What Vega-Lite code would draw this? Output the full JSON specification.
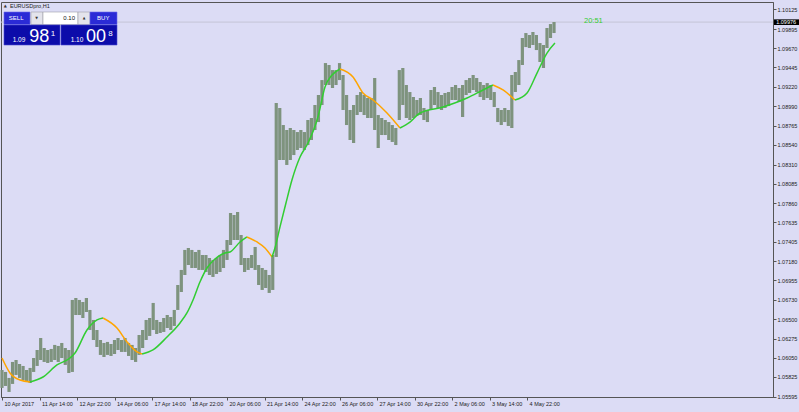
{
  "$schema": "https://vega.github.io/schema/vega-lite/v6.json",
  "width": 772,
  "height": 395,
  "autosize": {"type": "none"},
  "padding": {"left": 1, "top": 2, "right": 26, "bottom": 15},
  "background": "#DCDCF5",
  "config": {"font": "Liberation Sans", "view": {"stroke": "#555555", "strokeWidth": 1}},
  "datasets": {
    "bars": [
      {"t":0,"h":1.05907,"l":1.05697},{"t":3,"h":1.05884,"l":1.05720},{"t":6,"h":1.05814,"l":1.05650},{"t":9,"h":1.06001,"l":1.05744},
      {"t":12,"h":1.06024,"l":1.05849},{"t":15,"h":1.05977,"l":1.05814},{"t":18,"h":1.05954,"l":1.05790},{"t":21,"h":1.05907,"l":1.05767},
      {"t":24,"h":1.05931,"l":1.05755},{"t":27,"h":1.06047,"l":1.05884},{"t":30,"h":1.06141,"l":1.05954},{"t":33,"h":1.06281,"l":1.06024},
      {"t":36,"h":1.06164,"l":1.06001},{"t":39,"h":1.06141,"l":1.05989},{"t":42,"h":1.06153,"l":1.06001},{"t":45,"h":1.06200,"l":1.06024},
      {"t":48,"h":1.06188,"l":1.06001},{"t":51,"h":1.06223,"l":1.06047},{"t":54,"h":1.06164,"l":1.05966},{"t":57,"h":1.06141,"l":1.05872},
      {"t":60,"h":1.06726,"l":1.05884},{"t":63,"h":1.06749,"l":1.06550},{"t":66,"h":1.06726,"l":1.06550},{"t":69,"h":1.06702,"l":1.06515},
      {"t":72,"h":1.06749,"l":1.06585},{"t":75,"h":1.06609,"l":1.06375},{"t":78,"h":1.06492,"l":1.06258},{"t":81,"h":1.06375,"l":1.06176},
      {"t":84,"h":1.06258,"l":1.06083},{"t":87,"h":1.06223,"l":1.06059},{"t":90,"h":1.06235,"l":1.06083},{"t":93,"h":1.06211,"l":1.06071},
      {"t":96,"h":1.06258,"l":1.06094},{"t":99,"h":1.06281,"l":1.06141},{"t":102,"h":1.06258,"l":1.06118},{"t":105,"h":1.06281,"l":1.06118},
      {"t":108,"h":1.06223,"l":1.06071},{"t":111,"h":1.06200,"l":1.06024},{"t":114,"h":1.06164,"l":1.06001},{"t":117,"h":1.06316,"l":1.06083},
      {"t":120,"h":1.06375,"l":1.06164},{"t":123,"h":1.06492,"l":1.06258},{"t":126,"h":1.06515,"l":1.06305},{"t":129,"h":1.06691,"l":1.06375},
      {"t":132,"h":1.06492,"l":1.06328},{"t":135,"h":1.06468,"l":1.06340},{"t":138,"h":1.06515,"l":1.06352},{"t":141,"h":1.06550,"l":1.06398},
      {"t":144,"h":1.06527,"l":1.06375},{"t":147,"h":1.06609,"l":1.06422},{"t":150,"h":1.06901,"l":1.06609},{"t":153,"h":1.07077,"l":1.06819},
      {"t":156,"h":1.07311,"l":1.07018},{"t":159,"h":1.07334,"l":1.07135},{"t":162,"h":1.07311,"l":1.07100},{"t":165,"h":1.07287,"l":1.07100},
      {"t":168,"h":1.07311,"l":1.07077},{"t":171,"h":1.07252,"l":1.07077},{"t":174,"h":1.07252,"l":1.07053},{"t":177,"h":1.07217,"l":1.07018},
      {"t":180,"h":1.07194,"l":1.06995},{"t":183,"h":1.07217,"l":1.07030},{"t":186,"h":1.07252,"l":1.07053},{"t":189,"h":1.07311,"l":1.07100},
      {"t":192,"h":1.07427,"l":1.07194},{"t":195,"h":1.07743,"l":1.07369},{"t":198,"h":1.07720,"l":1.07427},{"t":201,"h":1.07755,"l":1.07427},
      {"t":204,"h":1.07486,"l":1.07135},{"t":207,"h":1.07217,"l":1.07053},{"t":210,"h":1.07217,"l":1.07077},{"t":213,"h":1.07252,"l":1.07100},
      {"t":216,"h":1.07346,"l":1.07077},{"t":219,"h":1.07135,"l":1.06901},{"t":222,"h":1.07100,"l":1.06843},{"t":225,"h":1.07077,"l":1.06866},
      {"t":228,"h":1.07018,"l":1.06808},{"t":231,"h":1.07252,"l":1.06843},{"t":234,"h":1.09030,"l":1.07229},{"t":237,"h":1.08971,"l":1.08363},
      {"t":240,"h":1.08772,"l":1.08363},{"t":243,"h":1.08714,"l":1.08305},{"t":246,"h":1.08737,"l":1.08363},{"t":249,"h":1.08714,"l":1.08421},
      {"t":252,"h":1.08690,"l":1.08480},{"t":255,"h":1.08714,"l":1.08503},{"t":258,"h":1.08690,"l":1.08480},{"t":261,"h":1.08831,"l":1.08538},
      {"t":264,"h":1.08854,"l":1.08597},{"t":267,"h":1.09006,"l":1.08714},{"t":270,"h":1.09123,"l":1.08807},{"t":273,"h":1.09298,"l":1.09006},
      {"t":276,"h":1.09497,"l":1.09240},{"t":279,"h":1.09474,"l":1.09240},{"t":282,"h":1.09415,"l":1.09205},{"t":285,"h":1.09415,"l":1.09240},
      {"t":288,"h":1.09497,"l":1.09298},{"t":291,"h":1.09357,"l":1.08948},{"t":294,"h":1.09123,"l":1.08772},{"t":297,"h":1.08948,"l":1.08597},
      {"t":300,"h":1.09006,"l":1.08562},{"t":303,"h":1.09123,"l":1.08889},{"t":306,"h":1.09158,"l":1.08924},{"t":309,"h":1.09123,"l":1.08889},
      {"t":312,"h":1.09088,"l":1.08854},{"t":315,"h":1.09088,"l":1.08854},{"t":318,"h":1.09322,"l":1.08714},{"t":321,"h":1.08889,"l":1.08503},
      {"t":324,"h":1.08854,"l":1.08655},{"t":327,"h":1.08831,"l":1.08655},{"t":330,"h":1.08807,"l":1.08597},{"t":333,"h":1.08772,"l":1.08574},
      {"t":336,"h":1.08737,"l":1.08538},{"t":339,"h":1.09415,"l":1.08831},{"t":342,"h":1.09439,"l":1.09006},{"t":345,"h":1.09240,"l":1.08854},
      {"t":348,"h":1.09158,"l":1.08831},{"t":351,"h":1.09100,"l":1.08854},{"t":354,"h":1.09065,"l":1.08878},{"t":357,"h":1.09088,"l":1.08889},
      {"t":360,"h":1.08971,"l":1.08831},{"t":363,"h":1.08948,"l":1.08807},{"t":366,"h":1.09182,"l":1.08948},{"t":369,"h":1.09217,"l":1.09006},
      {"t":372,"h":1.09158,"l":1.08971},{"t":375,"h":1.09123,"l":1.08948},{"t":378,"h":1.09147,"l":1.08971},{"t":381,"h":1.09158,"l":1.08994},
      {"t":384,"h":1.09217,"l":1.09065},{"t":387,"h":1.09240,"l":1.09065},{"t":390,"h":1.09205,"l":1.09041},{"t":393,"h":1.09240,"l":1.08866},
      {"t":396,"h":1.09298,"l":1.09123},{"t":399,"h":1.09322,"l":1.09147},{"t":402,"h":1.09357,"l":1.09182},{"t":405,"h":1.09322,"l":1.09158},
      {"t":408,"h":1.09275,"l":1.09100},{"t":411,"h":1.09240,"l":1.09065},{"t":414,"h":1.09263,"l":1.09088},{"t":417,"h":1.09240,"l":1.09065},
      {"t":420,"h":1.09158,"l":1.08983},{"t":423,"h":1.08971,"l":1.08807},{"t":426,"h":1.08948,"l":1.08772},{"t":429,"h":1.08971,"l":1.08807},
      {"t":432,"h":1.08948,"l":1.08761},{"t":435,"h":1.09357,"l":1.08737},{"t":438,"h":1.09392,"l":1.09158},{"t":441,"h":1.09532,"l":1.09240},
      {"t":444,"h":1.09790,"l":1.09474},{"t":447,"h":1.09848,"l":1.09684},{"t":450,"h":1.09825,"l":1.09673},{"t":453,"h":1.09860,"l":1.09708},
      {"t":456,"h":1.09825,"l":1.09649},{"t":459,"h":1.09731,"l":1.09509},{"t":462,"h":1.09708,"l":1.09439},{"t":465,"h":1.09907,"l":1.09673},
      {"t":468,"h":1.09953,"l":1.09790},{"t":471,"h":1.09977,"l":1.09848}
    ],
    "ma": [
      {"t":0,"p":1.06047,"seg":1,"dir":"down"},{"t":6.8,"p":1.05872,"seg":1,"dir":"down"},{"t":15.4,"p":1.05790,"seg":1,"dir":"down"},{"t":23.9,"p":1.05767,"seg":1,"dir":"down"},
      {"t":23.9,"p":1.05767,"seg":2,"dir":"up"},{"t":35.0,"p":1.05825,"seg":2,"dir":"up"},{"t":46.9,"p":1.05966,"seg":2,"dir":"up"},{"t":58.0,"p":1.06047,"seg":2,"dir":"up"},{"t":62.3,"p":1.06106,"seg":2,"dir":"up"},{"t":72.5,"p":1.06375,"seg":2,"dir":"up"},{"t":81.1,"p":1.06492,"seg":2,"dir":"up"},{"t":86.2,"p":1.06515,"seg":2,"dir":"up"},
      {"t":86.2,"p":1.06515,"seg":3,"dir":"down"},{"t":98.1,"p":1.06398,"seg":3,"dir":"down"},{"t":106.7,"p":1.06235,"seg":3,"dir":"down"},{"t":115.2,"p":1.06118,"seg":3,"dir":"down"},{"t":119.5,"p":1.06094,"seg":3,"dir":"down"},
      {"t":119.5,"p":1.06094,"seg":4,"dir":"up"},{"t":128.8,"p":1.06141,"seg":4,"dir":"up"},{"t":140.8,"p":1.06293,"seg":4,"dir":"up"},{"t":151.9,"p":1.06457,"seg":4,"dir":"up"},{"t":157.8,"p":1.06574,"seg":4,"dir":"up"},{"t":163.0,"p":1.06726,"seg":4,"dir":"up"},{"t":168.9,"p":1.06936,"seg":4,"dir":"up"},{"t":174.9,"p":1.07100,"seg":4,"dir":"up"},{"t":181.7,"p":1.07205,"seg":4,"dir":"up"},{"t":190.3,"p":1.07275,"seg":4,"dir":"up"},{"t":194.5,"p":1.07287,"seg":4,"dir":"up"},{"t":203.1,"p":1.07404,"seg":4,"dir":"up"},{"t":209.0,"p":1.07463,"seg":4,"dir":"up"},
      {"t":209.0,"p":1.07463,"seg":5,"dir":"down"},{"t":217.6,"p":1.07404,"seg":5,"dir":"down"},{"t":224.4,"p":1.07334,"seg":5,"dir":"down"},{"t":230.4,"p":1.07229,"seg":5,"dir":"down"},
      {"t":230.4,"p":1.07229,"seg":6,"dir":"up"},{"t":232.9,"p":1.07334,"seg":6,"dir":"up"},{"t":237.2,"p":1.07580,"seg":6,"dir":"up"},{"t":242.3,"p":1.07860,"seg":6,"dir":"up"},{"t":247.4,"p":1.08129,"seg":6,"dir":"up"},{"t":254.3,"p":1.08398,"seg":6,"dir":"up"},{"t":261.1,"p":1.08562,"seg":6,"dir":"up"},{"t":269.6,"p":1.08866,"seg":6,"dir":"up"},{"t":275.6,"p":1.09217,"seg":6,"dir":"up"},{"t":281.6,"p":1.09357,"seg":6,"dir":"up"},{"t":288.4,"p":1.09427,"seg":6,"dir":"up"},
      {"t":288.4,"p":1.09427,"seg":7,"dir":"down"},{"t":299.5,"p":1.09334,"seg":7,"dir":"down"},{"t":308.0,"p":1.09147,"seg":7,"dir":"down"},{"t":316.6,"p":1.09065,"seg":7,"dir":"down"},{"t":328.5,"p":1.08913,"seg":7,"dir":"down"},{"t":339.6,"p":1.08737,"seg":7,"dir":"down"},
      {"t":339.6,"p":1.08737,"seg":8,"dir":"up"},{"t":348.1,"p":1.08807,"seg":8,"dir":"up"},{"t":356.7,"p":1.08913,"seg":8,"dir":"up"},{"t":376.3,"p":1.08983,"seg":8,"dir":"up"},{"t":396.8,"p":1.09088,"seg":8,"dir":"up"},{"t":410.4,"p":1.09182,"seg":8,"dir":"up"},{"t":418.9,"p":1.09240,"seg":8,"dir":"up"},
      {"t":418.9,"p":1.09240,"seg":9,"dir":"down"},{"t":427.5,"p":1.09182,"seg":9,"dir":"down"},{"t":437.7,"p":1.09065,"seg":9,"dir":"down"},
      {"t":437.7,"p":1.09065,"seg":10,"dir":"up"},{"t":448.0,"p":1.09147,"seg":10,"dir":"up"},{"t":456.5,"p":1.09380,"seg":10,"dir":"up"},{"t":465.0,"p":1.09614,"seg":10,"dir":"up"},{"t":471.8,"p":1.09731,"seg":10,"dir":"up"}
    ]
  },
  "data": {"values": [{}]},
  "layer": [
    {
      "mark": {"type": "rule", "color": "#C4C4D6", "strokeWidth": 1},
      "encoding": {
        "y": {"datum": 1.09976, "type": "quantitative", "title": null}
      }
    },
    {
      "data": {"name": "bars"},
      "mark": {"type": "rule", "color": "#7E937E", "strokeWidth": 3.2},
      "encoding": {
        "x": {
          "field": "t", "type": "quantitative", "title": null,
          "scale": {"domain": [-0.85, 657.85], "nice": false, "zero": false},
          "axis": {
            "values": [0,32,64,96,128,160,192,224,256,288,320,352,384,416,448],
            "tickCount": 40,
            "labelExpr": "['10 Apr 2017','11 Apr 14:00','12 Apr 22:00','14 Apr 06:00','17 Apr 14:00','18 Apr 22:00','20 Apr 06:00','21 Apr 14:00','24 Apr 22:00','26 Apr 06:00','27 Apr 14:00','30 Apr 22:00','2 May 06:00','3 May 14:00','4 May 22:00'][round(datum.value/32)]",
            "labelAlign": "left", "labelBaseline": "top", "labelOffset": 2, "labelPadding": 1,
            "tickSize": 3, "labelFontSize": 5.5, "labelColor": "#222222", "tickColor": "#555555",
            "domainColor": "#555555", "grid": false, "labelFlush": false, "labelOverlap": false, "labelBound": false
          }
        },
        "y": {
          "field": "h", "type": "quantitative", "title": null,
          "scale": {"domain": [1.05591, 1.10211], "nice": false, "zero": false},
          "axis": {
            "orient": "right",
            "values": [1.05595,1.05825,1.0605,1.06275,1.065,1.0673,1.06955,1.0718,1.07405,1.07635,1.0786,1.08085,1.0831,1.0854,1.08765,1.0899,1.0922,1.09445,1.0967,1.09895,1.10125],
            "tickCount": 40,
            "format": ".5f", "labelFontSize": 5.5, "labelColor": "#222222", "tickSize": 3, "labelPadding": 1,
            "tickColor": "#555555", "domainColor": "#555555", "grid": false, "labelOverlap": false, "labelBound": false, "labelFlush": false
          }
        },
        "y2": {"field": "l"}
      }
    },
    {
      "data": {"name": "ma"},
      "mark": {"type": "line", "strokeWidth": 1.5, "interpolate": "monotone"},
      "encoding": {
        "x": {"field": "t", "type": "quantitative", "title": null},
        "y": {"field": "p", "type": "quantitative", "title": null},
        "detail": {"field": "seg", "type": "nominal"},
        "color": {"field": "dir", "type": "nominal", "scale": {"domain": ["up", "down"], "range": ["#32CD32", "#FFA500"]}, "legend": null}
      }
    },
    {
      "mark": {"type": "text", "text": "20:51", "color": "#32CD32", "fontSize": 7.5, "align": "left", "baseline": "middle"},
      "encoding": {"x": {"datum": 496.6, "type": "quantitative", "title": null}, "y": {"datum": 1.09986, "type": "quantitative", "title": null}}
    },
    {
      "mark": {"type": "rect", "color": "#000000"},
      "encoding": {
        "x": {"datum": 658.7, "type": "quantitative", "title": null}, "x2": {"datum": 681},
        "y": {"datum": 1.10008, "type": "quantitative", "title": null}, "y2": {"datum": 1.09942}
      }
    },
    {
      "mark": {"type": "text", "text": "1.09976", "color": "#FFFFFF", "fontSize": 5.5, "align": "left", "baseline": "middle"},
      "encoding": {"x": {"datum": 660.6, "type": "quantitative", "title": null}, "y": {"datum": 1.09976, "type": "quantitative", "title": null}}
    },
    {
      "mark": {"type": "text", "text": "▲", "color": "#333333", "fontSize": 4, "font": "DejaVu Sans", "align": "left", "baseline": "middle"},
      "encoding": {"x": {"datum": 1.5, "type": "quantitative", "title": null}, "y": {"datum": 1.10164, "type": "quantitative", "title": null}}
    },
    {
      "mark": {"type": "text", "text": "EURUSDpro,H1", "color": "#222222", "fontSize": 5.5, "align": "left", "baseline": "middle"},
      "encoding": {"x": {"datum": 6.8, "type": "quantitative", "title": null}, "y": {"datum": 1.10164, "type": "quantitative", "title": null}}
    },
    {
      "mark": {"type": "rect", "fill": "#2B2BD6", "stroke": "#6A6AEA", "strokeWidth": 0.6},
      "encoding": {"x": {"datum": 1.71, "type": "quantitative", "title": null}, "x2": {"datum": 23.89}, "y": {"datum": 1.10094, "type": "quantitative", "title": null}, "y2": {"datum": 1.09948}}
    },
    {
      "mark": {"type": "rect", "fill": "#E4E4EC", "stroke": "#A0A0A8", "strokeWidth": 0.6},
      "encoding": {"x": {"datum": 24.74, "type": "quantitative", "title": null}, "x2": {"datum": 34.98}, "y": {"datum": 1.10094, "type": "quantitative", "title": null}, "y2": {"datum": 1.09948}}
    },
    {
      "mark": {"type": "rect", "fill": "#FFFFFF", "stroke": "#A0A0A8", "strokeWidth": 0.6},
      "encoding": {"x": {"datum": 34.98, "type": "quantitative", "title": null}, "x2": {"datum": 64.85}, "y": {"datum": 1.10094, "type": "quantitative", "title": null}, "y2": {"datum": 1.09948}}
    },
    {
      "mark": {"type": "rect", "fill": "#E4E4EC", "stroke": "#A0A0A8", "strokeWidth": 0.6},
      "encoding": {"x": {"datum": 64.85, "type": "quantitative", "title": null}, "x2": {"datum": 75.09}, "y": {"datum": 1.10094, "type": "quantitative", "title": null}, "y2": {"datum": 1.09948}}
    },
    {
      "mark": {"type": "rect", "fill": "#2B2BD6", "stroke": "#6A6AEA", "strokeWidth": 0.6},
      "encoding": {"x": {"datum": 75.09, "type": "quantitative", "title": null}, "x2": {"datum": 98.12}, "y": {"datum": 1.10094, "type": "quantitative", "title": null}, "y2": {"datum": 1.09948}}
    },
    {
      "mark": {"type": "rect", "fill": "#0C0CAA", "stroke": "#4A4AD0", "strokeWidth": 0.6},
      "encoding": {"x": {"datum": 1.71, "type": "quantitative", "title": null}, "x2": {"datum": 49.49}, "y": {"datum": 1.09942, "type": "quantitative", "title": null}, "y2": {"datum": 1.09708}}
    },
    {
      "mark": {"type": "rect", "fill": "#0C0CAA", "stroke": "#4A4AD0", "strokeWidth": 0.6},
      "encoding": {"x": {"datum": 50.34, "type": "quantitative", "title": null}, "x2": {"datum": 98.12}, "y": {"datum": 1.09942, "type": "quantitative", "title": null}, "y2": {"datum": 1.09708}}
    },
    {
      "mark": {"type": "text", "text": "SELL", "color": "#FFFFFF", "fontSize": 6, "align": "center", "baseline": "middle"},
      "encoding": {"x": {"datum": 12.1, "type": "quantitative", "title": null}, "y": {"datum": 1.10025, "type": "quantitative", "title": null}}
    },
    {
      "mark": {"type": "text", "text": "BUY", "color": "#FFFFFF", "fontSize": 6, "align": "center", "baseline": "middle"},
      "encoding": {"x": {"datum": 86.4, "type": "quantitative", "title": null}, "y": {"datum": 1.10025, "type": "quantitative", "title": null}}
    },
    {
      "mark": {"type": "text", "text": "0.10", "color": "#111111", "fontSize": 6, "align": "right", "baseline": "middle"},
      "encoding": {"x": {"datum": 62.3, "type": "quantitative", "title": null}, "y": {"datum": 1.10025, "type": "quantitative", "title": null}}
    },
    {
      "mark": {"type": "text", "text": "▼", "color": "#333333", "fontSize": 3.5, "font": "DejaVu Sans", "align": "center", "baseline": "middle"},
      "encoding": {"x": {"datum": 29.6, "type": "quantitative", "title": null}, "y": {"datum": 1.10025, "type": "quantitative", "title": null}}
    },
    {
      "mark": {"type": "text", "text": "▲", "color": "#333333", "fontSize": 3.5, "font": "DejaVu Sans", "align": "center", "baseline": "middle"},
      "encoding": {"x": {"datum": 70.0, "type": "quantitative", "title": null}, "y": {"datum": 1.10025, "type": "quantitative", "title": null}}
    },
    {
      "mark": {"type": "text", "text": "1.09", "color": "#FFFFFF", "fontSize": 6.5, "align": "left", "baseline": "alphabetic"},
      "encoding": {"x": {"datum": 9.1, "type": "quantitative", "title": null}, "y": {"datum": 1.09743, "type": "quantitative", "title": null}}
    },
    {
      "mark": {"type": "text", "text": "98", "color": "#FFFFFF", "fontSize": 18, "align": "left", "baseline": "alphabetic"},
      "encoding": {"x": {"datum": 23.3, "type": "quantitative", "title": null}, "y": {"datum": 1.09743, "type": "quantitative", "title": null}}
    },
    {
      "mark": {"type": "text", "text": "1", "color": "#FFFFFF", "fontSize": 8, "align": "left", "baseline": "alphabetic"},
      "encoding": {"x": {"datum": 41.6, "type": "quantitative", "title": null}, "y": {"datum": 1.09813, "type": "quantitative", "title": null}}
    },
    {
      "mark": {"type": "text", "text": "1.10", "color": "#FFFFFF", "fontSize": 6.5, "align": "left", "baseline": "alphabetic"},
      "encoding": {"x": {"datum": 58.6, "type": "quantitative", "title": null}, "y": {"datum": 1.09743, "type": "quantitative", "title": null}}
    },
    {
      "mark": {"type": "text", "text": "00", "color": "#FFFFFF", "fontSize": 18, "align": "left", "baseline": "alphabetic"},
      "encoding": {"x": {"datum": 71.7, "type": "quantitative", "title": null}, "y": {"datum": 1.09743, "type": "quantitative", "title": null}}
    },
    {
      "mark": {"type": "text", "text": "8", "color": "#FFFFFF", "fontSize": 8, "align": "left", "baseline": "alphabetic"},
      "encoding": {"x": {"datum": 90.7, "type": "quantitative", "title": null}, "y": {"datum": 1.09813, "type": "quantitative", "title": null}}
    }
  ]
}
